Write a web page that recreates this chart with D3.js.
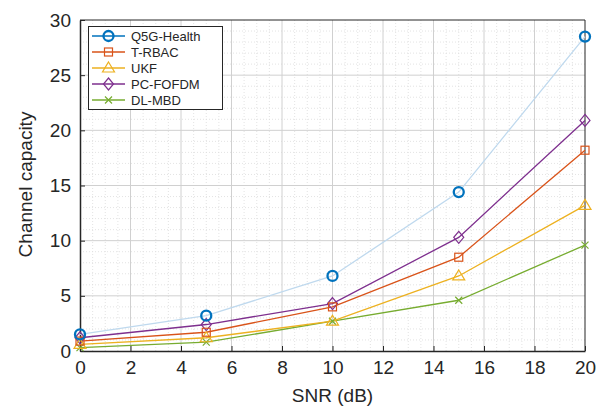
<!DOCTYPE html>
<html><head><meta charset="utf-8">
<script src="https://cdn.jsdelivr.net/npm/d3@7"></script>
<style>body{margin:0;background:#fff}svg{display:block}text{font-family:"Liberation Sans",Arial,sans-serif;fill:#262626}</style>
</head><body><svg id="c" width="605" height="412"></svg>
<script>
const snr = [0, 5, 10, 15, 20];
const seriesNames = ["Q5G-Health", "T-RBAC", "UKF", "PC-FOFDM", "DL-MBD"];
const q5g = [1.5, 3.2, 6.8, 14.4, 28.5];
const trbac = [0.9, 1.7, 4.0, 8.5, 18.2];
const ukf = [0.6, 1.2, 2.7, 6.8, 13.2];
const pcfofdm = [1.2, 2.4, 4.3, 10.3, 20.9];
const dlmbd = [0.3, 0.8, 2.7, 4.6, 9.6];
const xTicks = [0, 2, 4, 6, 8, 10, 12, 14, 16, 18, 20];
const yTicks = [0, 5, 10, 15, 20, 25, 30];

const series = [
  {name: seriesNames[0], vals: q5g, color: "#0072BD", line: "#BFD9EE", marker: "circle"},
  {name: seriesNames[1], vals: trbac, color: "#D95319", line: "#D95319", marker: "square"},
  {name: seriesNames[2], vals: ukf, color: "#EDB120", line: "#EDB120", marker: "triangle"},
  {name: seriesNames[3], vals: pcfofdm, color: "#7E2F8E", line: "#7E2F8E", marker: "diamond"},
  {name: seriesNames[4], vals: dlmbd, color: "#77AC30", line: "#77AC30", marker: "cross"}
];

const svg = d3.select("#c");
const L = 80, R = 585, T = 20, B = 351;
const x = d3.scaleLinear().domain([0, 20]).range([L, R]);
const y = d3.scaleLinear().domain([0, 30]).range([B, T]);

// minor grid
const g = svg.append("g");
g.selectAll(".mx").data(d3.range(0.5, 20, 0.5).filter(v => v % 2 !== 0)).enter().append("line")
  .attr("x1", d => x(d)).attr("x2", d => x(d)).attr("y1", T).attr("y2", B)
  .attr("stroke", "#dcdcdc").attr("stroke-width", 0.8).attr("stroke-dasharray", "1,2");
g.selectAll(".my").data(d3.range(1, 30, 1).filter(v => v % 5 !== 0)).enter().append("line")
  .attr("y1", d => y(d)).attr("y2", d => y(d)).attr("x1", L).attr("x2", R)
  .attr("stroke", "#dcdcdc").attr("stroke-width", 0.8).attr("stroke-dasharray", "1,2");
// major grid
g.selectAll(".gx").data(xTicks.slice(1, -1)).enter().append("line")
  .attr("x1", d => x(d)).attr("x2", d => x(d)).attr("y1", T).attr("y2", B)
  .attr("stroke", "#d0d0d0").attr("stroke-width", 1);
g.selectAll(".gy").data(yTicks.slice(1, -1)).enter().append("line")
  .attr("y1", d => y(d)).attr("y2", d => y(d)).attr("x1", L).attr("x2", R)
  .attr("stroke", "#d0d0d0").attr("stroke-width", 1);

// axes
const xAxis = d3.axisBottom(x).tickValues(xTicks).tickSizeInner(-5).tickSizeOuter(0).tickPadding(10);
const yAxis = d3.axisLeft(y).tickValues(yTicks).tickSizeInner(-5).tickSizeOuter(0).tickPadding(9);
const xa = svg.append("g").attr("transform", `translate(0,${B})`).call(xAxis);
const ya = svg.append("g").attr("transform", `translate(${L},0)`).call(yAxis);
[xa, ya].forEach(a => {
  a.selectAll("path").attr("stroke", "#262626").attr("stroke-width", 1.5);
  a.selectAll("line").attr("stroke", "#262626");
  a.selectAll("text").style("font-size", "19px").attr("fill", "#262626");
});
// box
svg.append("line").attr("x1", L).attr("x2", R).attr("y1", T).attr("y2", T).attr("stroke", "#262626").attr("stroke-width", 1);
svg.append("line").attr("x1", R).attr("x2", R).attr("y1", T).attr("y2", B).attr("stroke", "#262626").attr("stroke-width", 1);

svg.append("text").attr("x", (L + R) / 2).attr("y", 402).attr("text-anchor", "middle")
  .style("font-size", "19px").text("SNR (dB)");
svg.append("text").attr("transform", `translate(32,${(T + B) / 2 - 1}) rotate(-90)`).attr("text-anchor", "middle")
  .style("font-size", "19px").text("Channel capacity");

function drawMarker(sel, type, cx, cy, color) {
  if (type === "circle") {
    sel.append("circle").attr("cx", cx).attr("cy", cy).attr("r", 5).attr("fill", "none").attr("stroke", color).attr("stroke-width", 2.3);
  } else if (type === "square") {
    sel.append("rect").attr("x", cx - 4).attr("y", cy - 4).attr("width", 8).attr("height", 8).attr("fill", "none").attr("stroke", color).attr("stroke-width", 1.2);
  } else if (type === "triangle") {
    sel.append("path").attr("d", `M${cx},${cy - 6}L${cx + 6},${cy + 4}L${cx - 6},${cy + 4}Z`).attr("fill", "none").attr("stroke", color).attr("stroke-width", 1.2);
  } else if (type === "diamond") {
    sel.append("path").attr("d", `M${cx},${cy - 6}L${cx + 5},${cy}L${cx},${cy + 6}L${cx - 5},${cy}Z`).attr("fill", "none").attr("stroke", color).attr("stroke-width", 1.2);
  } else if (type === "cross") {
    sel.append("path").attr("d", `M${cx - 3.5},${cy - 3.5}L${cx + 3.5},${cy + 3.5}M${cx - 3.5},${cy + 3.5}L${cx + 3.5},${cy - 3.5}`).attr("fill", "none").attr("stroke", color).attr("stroke-width", 1.2);
  }
}

const line = d3.line().x((d, i) => x(snr[i])).y(d => y(d));
series.slice().reverse().forEach(s => {
  svg.append("path").attr("d", line(s.vals)).attr("fill", "none").attr("stroke", s.line).attr("stroke-width", 1.3);
});
series.slice().reverse().forEach(s => {
  const mg = svg.append("g");
  s.vals.forEach((v, i) => drawMarker(mg, s.marker, x(snr[i]), y(v), s.color));
});

// legend
const lg = svg.append("g");
lg.append("rect").attr("x", 88.5).attr("y", 26.5).attr("width", 134).attr("height", 83).attr("fill", "#fff").attr("stroke", "#262626").attr("stroke-width", 1);
series.forEach((s, i) => {
  const ly = 36 + i * 16;
  lg.append("line").attr("x1", 92).attr("x2", 125).attr("y1", ly).attr("y2", ly).attr("stroke", s.color).attr("stroke-width", 1.3);
  drawMarker(lg, s.marker, 108.5, ly, s.color);
  lg.append("text").attr("x", 131).attr("y", ly + 4.5).style("font-size", "13px").text(s.name);
});
</script></body></html>
